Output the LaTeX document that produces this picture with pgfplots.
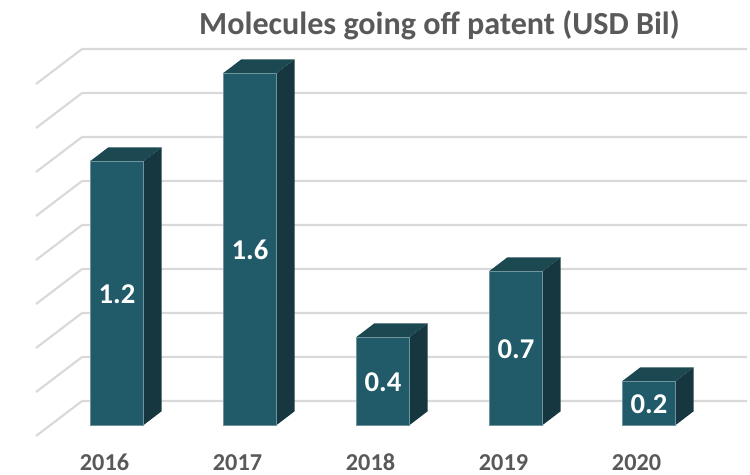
\documentclass[border=0pt]{standalone}
\usepackage{fontspec}
\setmainfont{Carlito}
\usepackage{pgfplots}
\usepackage{pgfplotstable}
\pgfplotsset{compat=1.18}
\definecolor{front}{HTML}{215A68}
\definecolor{top}{HTML}{1C4851}
\definecolor{side}{HTML}{16373F}
\definecolor{edge}{HTML}{6F949D}
\definecolor{gridc}{HTML}{D9D9D9}
\definecolor{txt}{HTML}{595959}

\pgfplotstableread{
x     v    mid   lab
0.094 1.2  0.6   1.2
1.094 1.6  0.8   1.6
2.094 0.4  0.2   0.4
3.094 0.7  0.35  0.7
4.094 0.2  0.1   0.2
}\patents

\pgfplotsset{
  wall/.style={gridc, line width=1.6pt, mark=none, line join=round, forget plot},
  sideface/.style={fill=side, draw=none, mark=none, forget plot},
  topface/.style={fill=top, draw=none, mark=none, forget plot},
}

\begin{document}
\begin{tikzpicture}
\path[use as bounding box] (0,-18.75pt) rectangle (562.5pt,337.5pt);
\begin{axis}[
    at={(0,0)}, anchor=south west,
    scale only axis,
    width=562.5pt, height=337.5pt,
    xmin=-0.7857, xmax=4.853,
    ymin=-0.1136, ymax=1.9318,
    axis line style={draw=none},
    tick style={draw=none},
    ytick=\empty,
    xtick={0,1,2,3,4},
    xticklabels={2016,2017,2018,2019,2020},
    xticklabel style={font=\bfseries\fontsize{18.2}{20}\selectfont, text=txt, anchor=base, inner sep=0pt, yshift=-15.6pt},
    title={Molecules going off patent (USD Bil)},
    title style={at={(axis description cs:0.586,0.929)}, anchor=base, yshift=-8pt,
        font=\bfseries\fontsize{24.1}{28}\selectfont, text=txt},
]
% back wall gridlines
\addplot[wall] coordinates {(-0.515,-0.05)(-0.169,0.109)(4.831,0.109)};
\addplot[wall] coordinates {(-0.515,0.15)(-0.169,0.309)(4.831,0.309)};
\addplot[wall] coordinates {(-0.515,0.35)(-0.169,0.509)(4.831,0.509)};
\addplot[wall] coordinates {(-0.515,0.55)(-0.169,0.709)(4.831,0.709)};
\addplot[wall] coordinates {(-0.515,0.75)(-0.169,0.909)(4.831,0.909)};
\addplot[wall] coordinates {(-0.515,0.95)(-0.169,1.109)(4.831,1.109)};
\addplot[wall] coordinates {(-0.515,1.15)(-0.169,1.309)(4.831,1.309)};
\addplot[wall] coordinates {(-0.515,1.35)(-0.169,1.509)(4.831,1.509)};
\addplot[wall] coordinates {(-0.515,1.55)(-0.169,1.709)(4.831,1.709)};
% side faces
\addplot[sideface] coordinates {(0.294,0)(0.429,0.0623)(0.429,1.2623)(0.294,1.2)(0.294,0)};
\addplot[sideface] coordinates {(1.294,0)(1.429,0.0623)(1.429,1.6623)(1.294,1.6)(1.294,0)};
\addplot[sideface] coordinates {(2.294,0)(2.429,0.0623)(2.429,0.4623)(2.294,0.4)(2.294,0)};
\addplot[sideface] coordinates {(3.294,0)(3.429,0.0623)(3.429,0.7623)(3.294,0.7)(3.294,0)};
\addplot[sideface] coordinates {(4.294,0)(4.429,0.0623)(4.429,0.2623)(4.294,0.2)(4.294,0)};
% top faces
\addplot[topface] coordinates {(-0.106,1.2)(0.029,1.2623)(0.429,1.2623)(0.294,1.2)};
\addplot[topface] coordinates {(0.894,1.6)(1.029,1.6623)(1.429,1.6623)(1.294,1.6)};
\addplot[topface] coordinates {(1.894,0.4)(2.029,0.4623)(2.429,0.4623)(2.294,0.4)};
\addplot[topface] coordinates {(2.894,0.7)(3.029,0.7623)(3.429,0.7623)(3.294,0.7)};
\addplot[topface] coordinates {(3.894,0.2)(4.029,0.2623)(4.429,0.2623)(4.294,0.2)};
% front faces
\addplot[ybar, bar width=0.4, fill=front, draw=edge, line width=0.25pt] table[x=x, y=v] {\patents};
% value labels
\addplot[draw=none, mark=none,
    nodes near coords, point meta=explicit symbolic,
    every node near coord/.style={anchor=center, yshift=-0.8pt, text=white, font=\bfseries\fontsize{21.5}{24}\selectfont}]
    table[x=x, y=mid, meta=lab] {\patents};
\end{axis}
\end{tikzpicture}
\end{document}
